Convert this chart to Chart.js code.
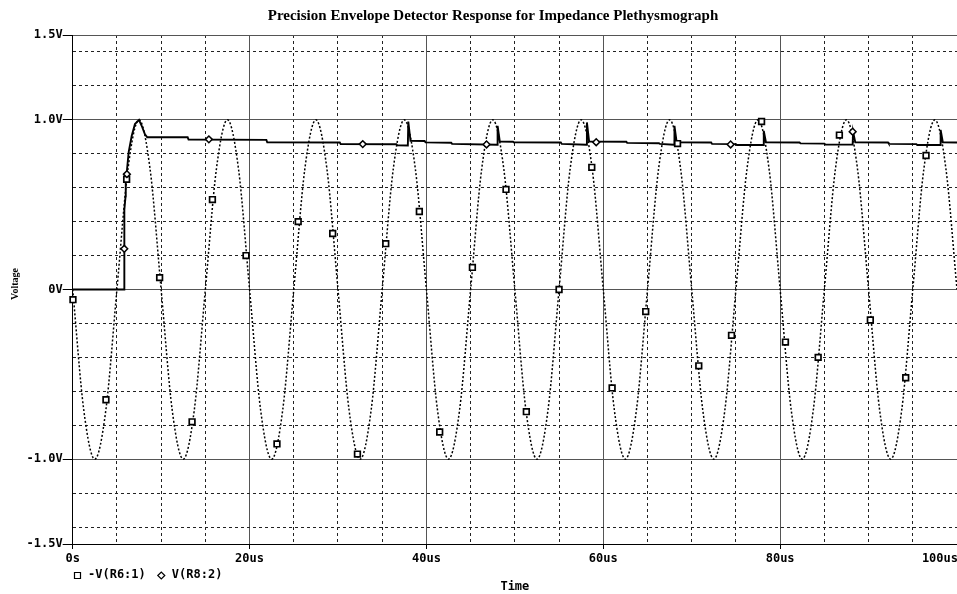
<!DOCTYPE html>
<html>
<head>
<meta charset="utf-8">
<title>Precision Envelope Detector Response</title>
<script src="https://cdn.jsdelivr.net/npm/chart.js@4.4.1/dist/chart.umd.min.js"></script>
<style>
  html, body { margin: 0; padding: 0; background: #fff; }
  #wrap { width: 957px; height: 594px; position: relative; overflow: hidden; }
</style>
</head>
<body>
<div id="wrap"><canvas id="chart"></canvas></div>
<script>
const chartTitle = 'Precision Envelope Detector Response for Impedance Plethysmograph';
const xTitle = 'Time';
const yTitle = 'Voltage';

// -V(R6:1): input sine, read every 1.25 us (us)
const sineTimes = [
  0, 1.25, 2.5, 3.75, 5, 6.25, 7.5, 8.75,
  10, 11.25, 12.5, 13.75, 15, 16.25, 17.5, 18.75,
  20, 21.25, 22.5, 23.75, 25, 26.25, 27.5, 28.75,
  30, 31.25, 32.5, 33.75, 35, 36.25, 37.5, 38.75,
  40, 41.25, 42.5, 43.75, 45, 46.25, 47.5, 48.75,
  50, 51.25, 52.5, 53.75, 55, 56.25, 57.5, 58.75,
  60, 61.25, 62.5, 63.75, 65, 66.25, 67.5, 68.75,
  70, 71.25, 72.5, 73.75, 75, 76.25, 77.5, 78.75,
  80, 81.25, 82.5, 83.75, 85, 86.25, 87.5, 88.75,
  90, 91.25, 92.5, 93.75, 95, 96.25, 97.5, 98.75,
  100
];
const sineValues = [
  0, -0.71, -1, -0.71, 0, 0.71, 1, 0.71,
  0, -0.71, -1, -0.71, 0, 0.71, 1, 0.71,
  0, -0.71, -1, -0.71, 0, 0.71, 1, 0.71,
  0, -0.71, -1, -0.71, 0, 0.71, 1, 0.71,
  0, -0.71, -1, -0.71, 0, 0.71, 1, 0.71,
  0, -0.71, -1, -0.71, 0, 0.71, 1, 0.71,
  0, -0.71, -1, -0.71, 0, 0.71, 1, 0.71,
  0, -0.71, -1, -0.71, 0, 0.71, 1, 0.71,
  0, -0.71, -1, -0.71, 0, 0.71, 1, 0.71,
  0, -0.71, -1, -0.71, 0, 0.71, 1, 0.71,
  0
];

// V(R8:2): detector output
const envTimes = [
  0, 5.83, 5.84, 5.98, 6.0, 6.13, 6.33, 6.67, 7.04, 7.5, 7.8, 8.17, 8.43,
  13.0, 13.1, 21.9, 22.0, 30.2, 30.3, 36.6, 36.7,
  37.9, 37.95, 38.2, 39.8, 39.9, 42.8, 42.9,
  48.0, 48.05, 48.3, 49.8, 49.9, 55.2, 55.3,
  58.1, 58.15, 58.4, 62.6, 62.7, 66.3, 66.4,
  68.0, 68.05, 68.3, 72.2, 72.3, 75.0, 75.1,
  78.1, 78.15, 78.4, 82.2, 82.3, 85.0, 85.1,
  88.2, 88.25, 88.5, 92.2, 92.3, 95.4, 95.5,
  98.1, 98.15, 98.4, 100
];
const envValues = [
  0, 0, 0.47, 0.55, 0.65, 0.70, 0.81, 0.905, 0.975, 1.0, 0.965, 0.915, 0.897,
  0.897, 0.884, 0.882, 0.868, 0.866, 0.857, 0.856, 0.850,
  0.849, 0.99, 0.876, 0.875, 0.867, 0.865, 0.858,
  0.853, 0.965, 0.872, 0.871, 0.867, 0.866, 0.858,
  0.853, 0.985, 0.872, 0.871, 0.864, 0.862, 0.858,
  0.853, 0.965, 0.867, 0.866, 0.858, 0.857, 0.852,
  0.852, 0.935, 0.867, 0.866, 0.861, 0.860, 0.855,
  0.854, 0.93, 0.867, 0.866, 0.858, 0.857, 0.852,
  0.852, 0.94, 0.867, 0.866
];

// marker symbols as PSpice placed them
const squareTimes = [0.03, 3.76, 6.1, 9.83, 13.5, 15.8, 19.6, 23.1, 25.5, 29.4, 32.2, 35.4, 39.2, 41.5, 45.2,
  49.0, 51.3, 55.0, 58.7, 61.0, 64.8, 68.4, 70.8, 74.5, 77.9, 80.6, 84.3, 86.7, 90.2, 94.2, 96.5];
const squareValues = [-0.06, -0.65, 0.65, 0.07, -0.78, 0.53, 0.20, -0.91, 0.40, 0.33, -0.97, 0.27, 0.46, -0.84, 0.13,
  0.59, -0.72, 0.0, 0.72, -0.58, -0.13, 0.86, -0.45, -0.27, 0.99, -0.31, -0.40, 0.91, -0.18, -0.52, 0.79];
const diamondTimes = [5.83, 6.13, 15.4, 32.8, 46.8, 59.2, 74.4, 88.2];
const diamondValues = [0.24, 0.68, 0.885, 0.857, 0.855, 0.868, 0.855, 0.93];

const xGridValues = [0, 5, 10, 15, 20, 25, 30, 35, 40, 45, 50, 55, 60, 65, 70, 75, 80, 85, 90, 95, 100];
const xTickLabels = { 0: '0s', 20: '20us', 40: '40us', 60: '60us', 80: '80us', 100: '100us' };
const yGridValues = [-1.5, -1.4, -1.2, -1.0, -0.8, -0.6, -0.4, -0.2, 0, 0.2, 0.4, 0.6, 0.8, 1.0, 1.2, 1.4, 1.5];
const yTickLabels = { '1.5': '1.5V', '1': '1.0V', '0': '0V', '-1': '-1.0V', '-1.5': '-1.5V' };
const ySolid = [-1, 0, 1, 1.5];

const MONO = '"DejaVu Sans Mono", monospace';
const SERIF = '"Liberation Serif", "DejaVu Serif", serif';

const zip = (xs, ys) => xs.map((x, i) => ({ x, y: ys[i] }));
const r1 = v => String(Math.round(v * 10) / 10);

// titles, x tick labels and the legend row, PSpice style
const pspiceText = {
  id: 'pspiceText',
  afterDraw(chart) {
    const { ctx, scales } = chart;
    const x = scales.x;
    ctx.save();
    ctx.fillStyle = '#000';
    ctx.strokeStyle = '#000';

    ctx.font = 'bold 15px ' + SERIF;
    ctx.textAlign = 'center';
    ctx.textBaseline = 'alphabetic';
    ctx.fillText(chartTitle, 493, 20);

    ctx.save();
    ctx.font = 'bold 10px ' + SERIF;
    ctx.translate(15.5, 284);
    ctx.rotate(-Math.PI / 2);
    ctx.textBaseline = 'middle';
    ctx.fillText(yTitle, 0, 0);
    ctx.restore();

    ctx.font = 'bold 12px ' + MONO;
    ctx.textBaseline = 'middle';
    ctx.textAlign = 'left';
    x.ticks.forEach(t => {
      const label = xTickLabels[t.value];
      if (!label) return;
      const w = ctx.measureText(label).width;
      const px = Math.min(x.getPixelForValue(t.value) - w / 2, chart.width - w + 1);
      ctx.fillText(label, px, 559);
    });

    ctx.textAlign = 'center';
    ctx.fillText(xTitle, (x.left + x.right) / 2, 587);

    // legend
    ctx.textAlign = 'left';
    ctx.lineWidth = 1.2;
    let lx = 74;
    const ly = 575;
    chart.data.datasets.filter(d => d.legendSymbol).forEach(d => {
      ctx.beginPath();
      if (d.legendSymbol === 'square') {
        ctx.rect(lx + 0.5, ly - 2.5, 6, 6);
      } else {
        ctx.moveTo(lx, ly + 0.5); ctx.lineTo(lx + 3.5, ly - 3);
        ctx.lineTo(lx + 7, ly + 0.5); ctx.lineTo(lx + 3.5, ly + 4);
        ctx.closePath();
      }
      ctx.stroke();
      lx += 14;
      ctx.fillText(d.label, lx, ly);
      lx += ctx.measureText(d.label).width + 12;
    });
    ctx.restore();
  }
};

new Chart(document.getElementById('chart'), {
  type: 'line',
  data: {
    datasets: [
      {
        type: 'scatter', label: 'diamonds', data: zip(diamondTimes, diamondValues),
        pointStyle: 'rectRot', pointRadius: 3.4, borderColor: '#000', backgroundColor: '#fff',
        borderWidth: 1.5, showLine: false, clip: false
      },
      {
        type: 'scatter', label: 'squares', data: zip(squareTimes, squareValues),
        pointStyle: 'rect', pointRadius: 4, borderColor: '#000', backgroundColor: '#fff',
        borderWidth: 1.7, showLine: false, clip: false
      },
      {
        label: '-V(R6:1)', legendSymbol: 'square', data: zip(sineTimes, sineValues),
        borderColor: '#000', borderWidth: 1.5, borderDash: [2, 2], pointRadius: 0,
        cubicInterpolationMode: 'monotone', fill: false
      },
      {
        label: 'V(R8:2)', legendSymbol: 'diamond', data: zip(envTimes, envValues),
        borderColor: '#000', borderWidth: 1.9, pointRadius: 0, tension: 0, fill: false
      }
    ]
  },
  options: {
    responsive: true,
    maintainAspectRatio: false,
    devicePixelRatio: 1,
    animation: false,
    events: [],
    layout: { autoPadding: false, padding: { top: 35, left: 0, right: 0, bottom: 0 } },
    plugins: { legend: { display: false }, tooltip: { enabled: false }, title: { display: false } },
    scales: {
      x: {
        type: 'linear', min: 0, max: 100,
        afterBuildTicks: s => { s.ticks = xGridValues.map(v => ({ value: v })); },
        afterFit: s => { s.height = 50; s.paddingLeft = 0; s.paddingRight = 0; },
        ticks: { display: false },
        grid: {
          drawTicks: true, tickLength: 5,
          color: c => c.tick && c.tick.value === 100 ? 'rgba(0,0,0,0)'
            : (c.tick && c.tick.value % 20 === 0 ? '#555' : '#222'),
          tickColor: c => c.tick && xTickLabels[c.tick.value] ? '#000' : 'rgba(0,0,0,0)',
          lineWidth: 1
        },
        border: {
          color: '#000', width: 1,
          dash: c => c.tick && c.tick.value % 20 !== 0 ? [3, 3] : []
        }
      },
      y: {
        type: 'linear', min: -1.5, max: 1.5,
        afterBuildTicks: s => { s.ticks = yGridValues.map(v => ({ value: v })); },
        afterFit: s => { s.width = 72.7; },
        ticks: {
          color: '#000', padding: 0, autoSkip: false,
          font: { family: MONO, size: 12, weight: 'bold' },
          callback: v => yTickLabels[r1(v)] || ''
        },
        grid: {
          drawTicks: true, tickLength: 10,
          color: c => c.tick && ySolid.includes(Number(r1(c.tick.value))) ? '#555' : '#222',
          tickColor: c => c.tick && yTickLabels[r1(c.tick.value)] ? '#000' : 'rgba(0,0,0,0)',
          lineWidth: 1
        },
        border: {
          color: '#000', width: 1,
          dash: c => c.tick && !ySolid.includes(Number(r1(c.tick.value))) ? [3, 3] : []
        }
      }
    }
  },
  plugins: [pspiceText]
});
</script>
</body>
</html>
